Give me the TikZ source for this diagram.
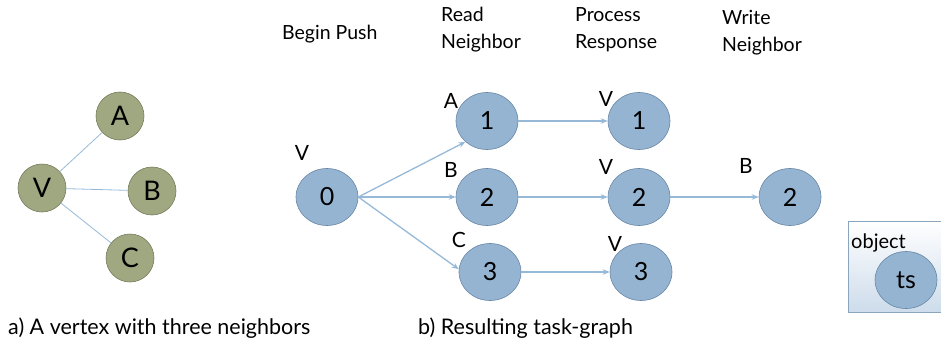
\documentclass[tikz,border=0pt]{standalone}
\usepackage{fontspec}
\setmainfont{Lato}
\usetikzlibrary{shapes.geometric,arrows.meta}
\definecolor{olivefill}{RGB}{160,168,129}
\definecolor{oliveedge}{RGB}{118,124,92}
\definecolor{taskfill}{RGB}{148,180,210}
\definecolor{taskedge}{RGB}{105,135,165}
\definecolor{linkc}{RGB}{150,185,215}
\definecolor{boxedge}{RGB}{140,165,190}
\definecolor{boxbot}{RGB}{205,220,235}
\begin{document}
\begin{tikzpicture}[x=1pt,y=-1pt,
  vert/.style={circle, draw=oliveedge, fill=olivefill, line width=0.6pt,
    minimum size=48pt, inner sep=0pt, font=\fontsize{27}{27}\selectfont},
  task/.style={ellipse, draw=taskedge, fill=taskfill, line width=0.6pt,
    minimum width=62pt, minimum height=57pt, inner sep=0pt,
    font=\fontsize{25}{25}\selectfont},
  lbl/.style={inner sep=0pt, font=\fontsize{21}{21}\selectfont},
  hdr/.style={inner sep=0pt, anchor=north west, align=left,
    font=\fontsize{19.5}{27}\selectfont},
  captext/.style={inner sep=0pt, anchor=west, font=\fontsize{21.5}{21.5}\selectfont},
  link/.style={draw=linkc, line width=0.8pt},
  flow/.style={draw=linkc, line width=1.3pt, -{Stealth[length=7pt,width=5.5pt]}}]
\useasboundingbox (0,0) rectangle (941,345);

% (a) vertex and its neighbours
\node[vert] (a) at (120,116) {A};
\node[vert] (v) at (42,188) {V};
\node[vert] (b) at (152,191) {B};
\node[vert] (c) at (130,258) {C};
\draw[link] (v) -- (a);
\draw[link] (v) -- (b);
\draw[link] (v) -- (c);

% column headings
\node[hdr] (h0) at (282,25) {Begin Push};
\node[hdr] (h1) at (441,7) {Read\\Neighbor};
\node[hdr] (h2) at (575,7) {Process\\Response};
\node[hdr] (h3) at (722,10) {Write\\Neighbor};

% (b) task graph
\node[task] (n0) at (327,197) {0};
\node[task] (n1) at (487,121) {1};
\node[task] (n2) at (487,197) {2};
\node[task] (n3) at (490,272) {3};
\node[task] (p1) at (639,121) {1};
\node[task] (p2) at (639,197) {2};
\node[task] (p3) at (641,272) {3};
\node[task] (w2) at (790,197) {2};

\node[lbl] (l0) at (302,153) {V};
\node[lbl] (l1) at (451,101) {A};
\node[lbl] (l2) at (451,170) {B};
\node[lbl] (l3) at (459,240) {C};
\node[lbl] (m1) at (606,99) {V};
\node[lbl] (m2) at (606,167) {V};
\node[lbl] (m3) at (615,244) {V};
\node[lbl] (k2) at (746,166) {B};

\draw[flow] (n0.east) -- (n1.224);
\draw[flow] (n0.east) -- (n2.west);
\draw[flow] (n0.east) -- (n3.175);
\draw[flow] (n1) -- (p1);
\draw[flow] (n2) -- (p2);
\draw[flow] (n3) -- (p3);
\draw[flow] (p2) -- (w2);

% object with its timestamp
\draw[boxedge, top color=white, bottom color=boxbot, line width=0.8pt]
  (848,221) rectangle (950,312);
\node[inner sep=0pt, anchor=west, font=\fontsize{20}{20}\selectfont] (obj) at (851,243) {object};
\node[task] (ts) at (906,280) {ts};

% captions
\node[captext] (ca) at (8,328) {a) A vertex with three neighbors};
\node[captext] (cb) at (418,328) {b) Resulting task-graph};
\end{tikzpicture}
\end{document}
